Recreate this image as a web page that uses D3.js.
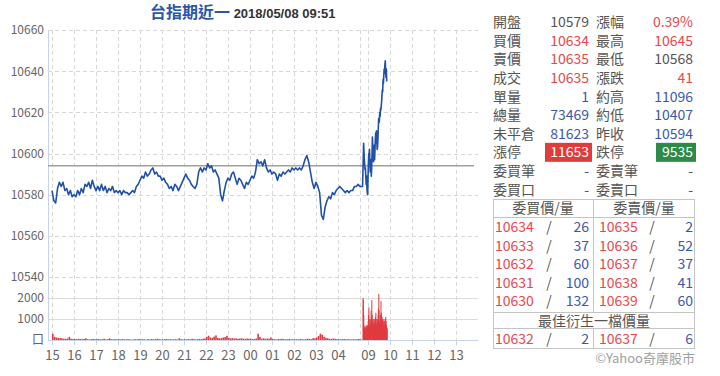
<!DOCTYPE html>
<html><head><meta charset="utf-8">
<script src="https://cdn.jsdelivr.net/npm/d3@7"></script>
<style>
body{margin:0;background:#fff;}
svg{display:block;font-family:"Noto Sans CJK TC","Noto Sans",sans-serif;}
</style>
</head><body>
<svg id="c" width="720" height="376"></svg>
<script>
// ---------- DATA ----------
// night session, 5-minute prices from 15:00 to 05:00
const nightPrices = [
 10582,10577,10576,10583,10586,10584,10586,10582,10583,10580,10582,10579,
 10580,10579,10582,10580,10583,10581,10585,10584,10586,10583,10587,10584,
 10582,10584,10582,10585,10582,10584,10581,10583,10582,10584,10581,10582,
 10581,10582,10580,10582,10581,10581,10580,10581,10582,10581,10584,10585,
 10587,10589,10588,10591,10589,10590,10592,10593,10590,10591,10589,10589,
 10587,10588,10586,10585,10583,10584,10582,10585,10584,10582,10584,10586,
 10588,10590,10588,10587,10585,10584,10583,10585,10591,10593,10591,10593,
 10592,10595,10593,10594,10591,10592,10590,10588,10580,10577,10582,10586,
 10588,10587,10590,10591,10588,10585,10588,10587,10585,10583,10586,10585,
 10587,10589,10588,10591,10597,10595,10596,10594,10597,10593,10591,10592,
 10590,10591,10590,10587,10590,10589,10591,10590,10591,10592,10591,10593,
 10592,10593,10592,10593,10592,10594,10597,10599,10596,10591,10586,10583,
 10586,10584,10581,10570,10568,10574,10577,10579,10578,10581,10580,10582,
 10583,10584,10583,10582,10581,10582,10581,10582,10582,10584,10584,10585,
 10584
];
// day session, 1-minute prices from 08:45 to 09:51
const dayPrices = [
 10584,10590,10598,10605,10601,10597,10594,10592,10593,10588,
 10585,10589,10583,10581,10580,10588,10595,10600,10598,10602,
 10596,10591,10597,10594,10589,10593,10600,10608,10603,10598,
 10596,10601,10604,10597,10602,10607,10610,10605,10611,10606,
 10602,10603,10607,10612,10617,10615,10616,10620,10618,10622,
 10621,10623,10625,10628,10631,10630,10636,10634,10638,10641,
 10639,10643,10645,10640,10637,10641,10635
];
// volumes
const nightVolumes = [
 300,150,120,100,90,80,60,60,70,150,60,50,
 50,40,60,50,40,50,80,40,30,40,50,40,
 40,50,30,40,60,30,40,80,40,30,40,30,
 40,30,50,30,30,40,30,20,30,40,30,50,
 30,40,30,20,40,30,50,30,40,60,40,30,
 30,40,50,30,40,30,30,40,30,80,40,30,
 40,30,50,30,60,40,30,40,50,40,60,80,
 150,200,120,100,160,220,100,80,90,120,140,200,
 100,80,90,70,80,60,70,80,60,50,70,60,
 60,40,50,70,300,150,60,80,60,70,60,120,
 50,40,30,50,40,60,40,30,40,50,30,40,
 30,40,30,50,40,30,40,60,50,40,90,80,
 120,200,300,250,150,100,80,60,50,70,60,40,
 40,30,40,50,30,40,30,30,40,30,40,50,
 30
];
const dayVolumes = [
 2000,1900,1200,700,600,550,600,500,650,700,
 600,550,700,650,900,1200,1550,1000,700,600,
 800,1000,1400,1100,1900,1200,800,900,1000,700,
 600,800,1000,900,1100,1300,1000,700,800,900,
 1000,1200,1500,2200,1400,800,900,1000,1200,1850,
 1300,900,1100,1000,800,900,700,1000,900,700,
 800,1000,1100,900,700,600,550
];
const prevClose = 10594;
const priceTicks = [10540,10560,10580,10600,10620,10640,10660];
const volTicks = [0,1000,2000];
const volTickLabels = ["口","1000","2000"];
const nightHours = ["15","16","17","18","19","20","21","22","23","00","01","02","03","04"];
const dayHours = ["09","10","11","12","13"];

const titleName = "台指期近一";
const titleTime = "2018/05/08 09:51";

const labels1 = ["開盤","買價","賣價","成交","單量","總量","未平倉","漲停","委買筆","委買口"];
const values1 = ["10579","10634","10635","10635","1","73469","81623","11653","-","-"];
const labels2 = ["漲幅","最高","最低","漲跌","約高","約低","昨收","跌停","委賣筆","委賣口"];
const values2 = ["0.39%","10645","10568","41","11096","10407","10594","9535","-","-"];
const tone1 = ["g","r","r","r","b","b","b","up","g","g"];
const tone2 = ["r","r","g","r","b","b","b","dn","g","g"];

const bidPrices = ["10634","10633","10632","10631","10630"];
const bidVols = ["26","37","60","100","132"];
const askPrices = ["10635","10636","10637","10638","10639"];
const askVols = ["2","52","37","41","60"];
const bestBid = ["10632","2"];
const bestAsk = ["10637","6"];

// ---------- DRAW ----------
const svg = d3.select("#c");
const RED="#e8474c", BLUE="#3a58b0", GRAY="#555", LINE="#2150a8";

// slot scale: night minutes 0..840 from 15:00; day = 847 + minutes from 08:45
const x = d3.scaleLinear().domain([-11,1162]).range([48,478]);
const y = d3.scaleLinear().domain([10540,10660]).range([277,30]);
const yv = d3.scaleLinear().domain([0,2000]).range([340,298]);

const nightSlots = nightHours.map((h,i)=>i*60);
const daySlots = dayHours.map((h,i)=>862+i*60);
const allSlots = nightSlots.concat(daySlots);
const allLabels = nightHours.concat(dayHours);

// vertical grid
const gridSlots = nightSlots.concat([840]).concat(daySlots);
svg.append("g").selectAll("line").data(gridSlots).join("line")
  .attr("x1",d=>Math.round(x(d))+0.5).attr("x2",d=>Math.round(x(d))+0.5)
  .attr("y1",30).attr("y2",340)
  .attr("stroke","#d8d8d8").attr("stroke-dasharray","4,3");

// horizontal price grid
svg.append("g").selectAll("line").data(priceTicks).join("line")
  .attr("x1",48).attr("x2",478)
  .attr("y1",d=>Math.round(y(d))+0.5).attr("y2",d=>Math.round(y(d))+0.5)
  .attr("stroke","#d8d8d8").attr("stroke-dasharray","4,3");

// volume grid
svg.append("g").selectAll("line").data(volTicks.slice(1)).join("line")
  .attr("x1",48).attr("x2",478)
  .attr("y1",d=>Math.round(yv(d))+0.5).attr("y2",d=>Math.round(yv(d))+0.5)
  .attr("stroke","#dcdcdc");

// left axis line
svg.append("line").attr("x1",48.5).attr("x2",48.5).attr("y1",30).attr("y2",340).attr("stroke","#c6d4e6");

// price axis labels
const ya = d3.axisLeft(y).tickValues(priceTicks).tickSize(0).tickPadding(4).tickFormat(d3.format("d"));
const gy = svg.append("g").attr("transform","translate(48,0)").call(ya);
gy.select(".domain").remove();
gy.selectAll("text").attr("fill","#666").style("font-size","12px").style("font-family","'Noto Sans CJK TC',sans-serif");

// volume axis labels
const va = d3.axisLeft(yv).tickValues(volTicks).tickSize(0).tickPadding(4).tickFormat((d,i)=>volTickLabels[i]);
const gv = svg.append("g").attr("transform","translate(48,0)").call(va);
gv.select(".domain").remove();
gv.selectAll("text").attr("fill","#666").style("font-size","12px").style("font-family","'Noto Sans CJK TC',sans-serif");

// previous close line
svg.append("line").attr("x1",48).attr("x2",474)
  .attr("y1",y(prevClose)).attr("y2",y(prevClose))
  .attr("stroke","#a0a0a0").attr("stroke-width",1.5);

// volume bars
const nightV = nightVolumes.map((v,i)=>({s:i*5,v}));
const dayV = dayVolumes.map((v,i)=>({s:847+i,v}));
svg.append("g").selectAll("rect").data(nightV).join("rect")
  .attr("x",d=>x(d.s)).attr("width",1.6)
  .attr("y",d=>yv(d.v)).attr("height",d=>yv(0)-yv(d.v))
  .attr("fill","#e03a3f");
svg.append("g").selectAll("rect").data(dayV).join("rect")
  .attr("x",d=>x(d.s)).attr("width",1)
  .attr("y",d=>yv(d.v)).attr("height",d=>yv(0)-yv(d.v))
  .attr("fill","#e03a3f");

// x axis
const xa = d3.axisBottom(x).tickValues(allSlots).tickSize(5).tickFormat((d,i)=>allLabels[i]);
const gx = svg.append("g").attr("transform","translate(0,340)").call(xa);
gx.select(".domain").attr("stroke","#c6d4e6").attr("d","M48,0.5H478");
gx.selectAll(".tick line").attr("stroke","#c6d4e6");
gx.selectAll("text").attr("fill","#666").attr("dy","0.95em").style("font-size","13px").style("font-family","'Noto Sans CJK TC',sans-serif");

// price line
const pts = nightPrices.map((v,i)=>({s:i*5,v})).concat(dayPrices.map((v,i)=>({s:847+i,v})));
svg.append("path").datum(pts)
  .attr("d",d3.line().x(d=>x(d.s)).y(d=>y(d.v)))
  .attr("fill","none").attr("stroke",LINE).attr("stroke-width",1.6).attr("stroke-linejoin","round");

// title
const t = svg.append("text").attr("x",150).attr("y",18);
t.append("tspan").text(titleName).attr("fill","#2b56a8").style("font-size","16px").style("font-weight","bold");
t.append("tspan").text(" "+titleTime).attr("fill","#333").style("font-size","13px").style("font-weight","bold").style("font-family","'Liberation Sans',Arial,sans-serif");

// ---------- RIGHT PANEL ----------
const colorOf = k => k==="r"?RED:(k==="b"?BLUE:GRAY);
const rowY = i => 22 + i*18.62;
const panel = svg.append("g").style("font-size","14px");
labels1.forEach((l,i)=>{
  panel.append("text").attr("x",493).attr("y",rowY(i)).attr("dy","0.36em").attr("fill",GRAY).text(l);
  panel.append("text").attr("x",596).attr("y",rowY(i)).attr("dy","0.36em").attr("fill",GRAY).text(labels2[i]);
  if(tone1[i]==="up"){
    panel.append("rect").attr("x",545).attr("y",rowY(i)-9.5).attr("width",47).attr("height",19).attr("fill","#e03c3c");
  }
  if(tone2[i]==="dn"){
    panel.append("rect").attr("x",656).attr("y",rowY(i)-9.5).attr("width",40).attr("height",19).attr("fill","#2e8b47");
  }
  panel.append("text").attr("x",589).attr("y",rowY(i)).attr("dy","0.36em").attr("text-anchor","end")
    .attr("fill",tone1[i]==="up"?"#fff":colorOf(tone1[i])).text(values1[i]);
  panel.append("text").attr("x",693).attr("y",rowY(i)).attr("dy","0.36em").attr("text-anchor","end")
    .attr("fill",tone2[i]==="dn"?"#fff":colorOf(tone2[i])).text(values2[i]);
});

// order book table
const tb = svg.append("g").style("font-size","14px");
const BC = "#c4c4c4";
tb.append("rect").attr("x",493.5).attr("y",199.5).attr("width",201).attr("height",149).attr("fill","none").attr("stroke",BC);
[217,312,328].forEach(yy=>tb.append("line").attr("x1",493.5).attr("x2",694.5).attr("y1",yy+0.5).attr("y2",yy+0.5).attr("stroke",BC));
tb.append("line").attr("x1",593.5).attr("x2",593.5).attr("y1",199.5).attr("y2",312.5).attr("stroke",BC);
tb.append("line").attr("x1",593.5).attr("x2",593.5).attr("y1",328.5).attr("y2",348.5).attr("stroke",BC);
tb.append("text").attr("x",543).attr("y",208).attr("dy","0.36em").attr("text-anchor","middle").attr("fill",GRAY).text("委買價/量");
tb.append("text").attr("x",644).attr("y",208).attr("dy","0.36em").attr("text-anchor","middle").attr("fill",GRAY).text("委賣價/量");
const bookRow = (yy,bp,bv,ap,av)=>{
  tb.append("text").attr("x",495).attr("y",yy).attr("dy","0.36em").attr("fill",RED).text(bp);
  tb.append("text").attr("x",549).attr("y",yy).attr("dy","0.36em").attr("text-anchor","middle").attr("fill",GRAY).text("/");
  tb.append("text").attr("x",589).attr("y",yy).attr("dy","0.36em").attr("text-anchor","end").attr("fill",BLUE).text(bv);
  tb.append("text").attr("x",599).attr("y",yy).attr("dy","0.36em").attr("fill",RED).text(ap);
  tb.append("text").attr("x",652).attr("y",yy).attr("dy","0.36em").attr("text-anchor","middle").attr("fill",GRAY).text("/");
  tb.append("text").attr("x",693).attr("y",yy).attr("dy","0.36em").attr("text-anchor","end").attr("fill",BLUE).text(av);
};
bidPrices.forEach((p,i)=>bookRow(227+i*18.6,p,bidVols[i],askPrices[i],askVols[i]));
tb.append("text").attr("x",594).attr("y",320.5).attr("dy","0.36em").attr("text-anchor","middle").attr("fill",GRAY).text("最佳衍生一檔價量");
bookRow(339,bestBid[0],bestBid[1],bestAsk[0],bestAsk[1]);
svg.append("text").attr("x",695).attr("y",358).attr("dy","0.36em").attr("text-anchor","end")
  .attr("fill","#a0a0a0").style("font-size","13px").text("©Yahoo奇摩股市");
</script>
</body></html>
